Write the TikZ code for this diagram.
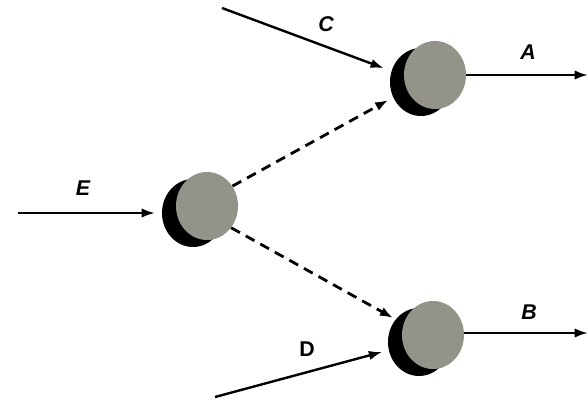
\documentclass[tikz,border=0pt]{standalone}
\usepackage{fontspec}
\setmainfont{Liberation Sans}
\usetikzlibrary{arrows.meta,shapes.geometric}
\definecolor{discgray}{RGB}{148,147,137}
\tikzset{
  disc/.style={ellipse,fill=discgray,minimum width=46.5pt,minimum height=51pt,inner sep=0pt},
  shade/.style={ellipse,fill=black,minimum width=46.5pt,minimum height=51pt,inner sep=0pt},
  flow/.style={line width=1.8pt,-{Latex[length=10pt,width=7pt]}},
  dflow/.style={line width=2.1pt,dash pattern=on 7.5pt off 5pt,-{Latex[length=10pt,width=7pt]}},
  lbl/.style={font=\fontsize{16}{16}\selectfont\bfseries\itshape},
}
\begin{document}
\begin{tikzpicture}[x=0.75pt,y=-0.75pt]
\useasboundingbox (0,0) rectangle (588,399);
% shadows
\node[shade] (Es) at (193,213) {};
\node[shade] (As) at (421,82) {};
\node[shade] (Bs) at (419,342) {};
% discs
\node[disc] (E) at (207,206) {};
\node[disc] (A) at (435,75) {};
\node[disc] (B) at (433,335) {};
% free ends
\coordinate (eIn) at (18,213);
\coordinate (cIn) at (222,8);
\coordinate (dIn) at (215,397);
\coordinate (aOut) at (588,75);
\coordinate (bOut) at (588,333);
% connectors
\draw[flow,shorten >=5pt] (eIn) -- (Es);
\draw[flow,shorten >=6pt] (cIn) -- (As);
\draw[flow,shorten >=5pt] (dIn) -- (Bs);
\draw[flow] (A.east) -- (aOut);
\draw[flow] (B.east |- bOut) -- (bOut);
\draw[dflow,shorten >=4pt] (E.38) -- (As);
\draw[dflow,shorten >=2pt] (E.-42) -- (Bs.136);
% labels
\node[lbl] (lE) at (83,188) {E};
\node[lbl] (lC) at (326,24) {C};
\node[lbl] (lA) at (528,52) {A};
\node[lbl] (lB) at (529,312) {B};
\node[font=\fontsize{16}{16}\selectfont\bfseries] (lD) at (307,349) {D};
\end{tikzpicture}
\end{document}
